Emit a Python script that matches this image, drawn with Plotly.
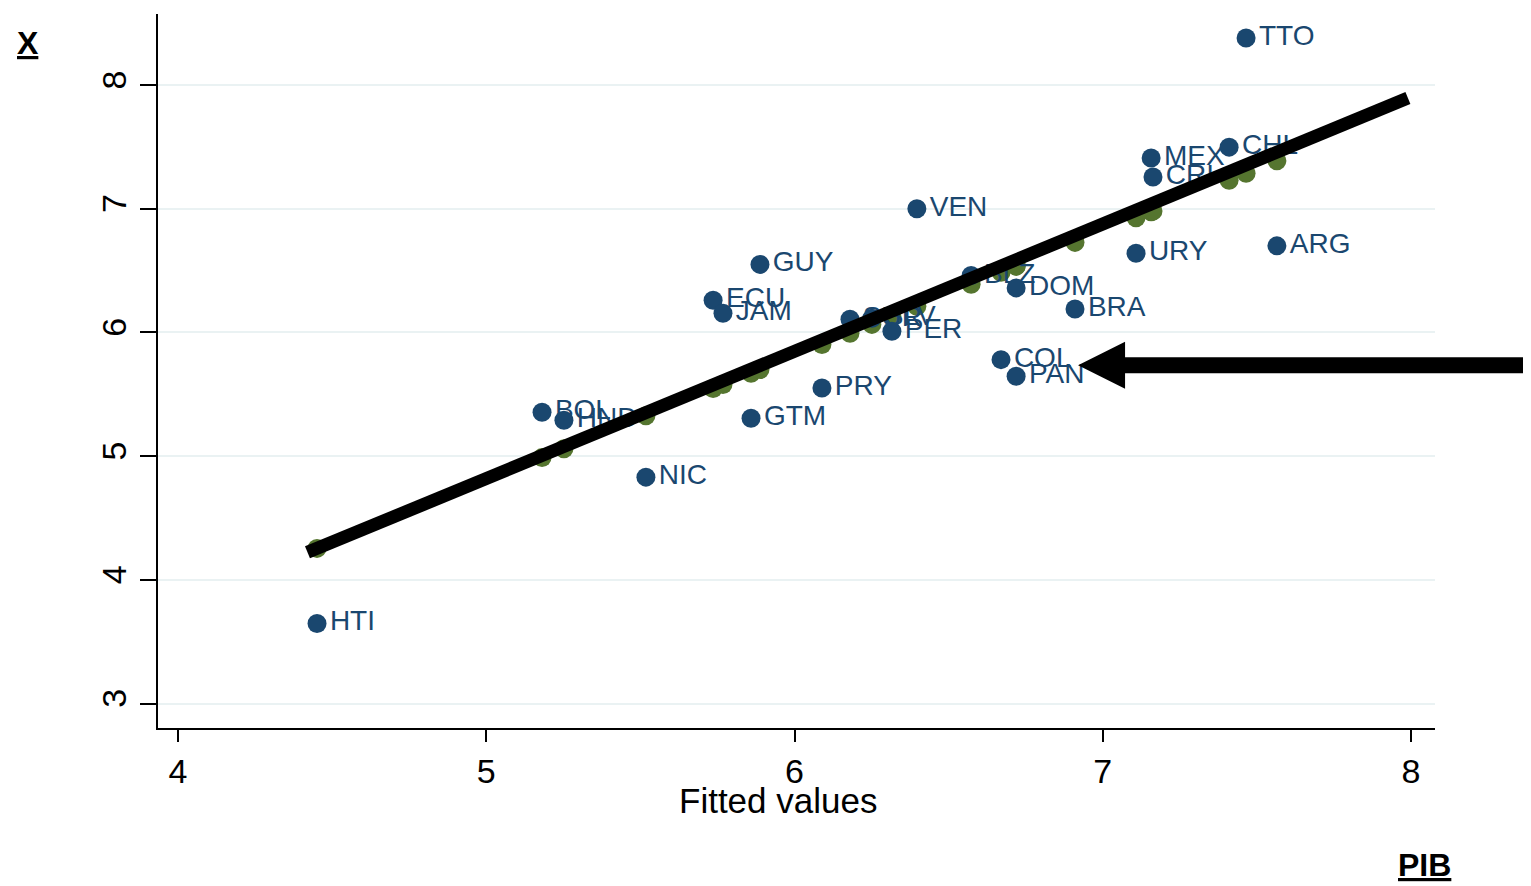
import plotly.graph_objects as go

# ---- data ----
countries = ["HTI", "BOL", "HND", "NIC", "ECU", "JAM", "GTM", "GUY", "PRY", "SUR",
             "SLV", "PER", "VEN", "BLZ", "COL", "DOM", "PAN", "BRA", "URY", "MEX",
             "CRI", "CHL", "TTO", "ARG"]
pib = [4.451, 5.181, 5.252, 5.518, 5.736, 5.768, 5.859, 5.888, 6.089, 6.180,
       6.251, 6.316, 6.397, 6.573, 6.670, 6.719, 6.719, 6.910, 7.108, 7.157,
       7.163, 7.410, 7.465, 7.565]
x_val = [3.647, 5.354, 5.290, 4.830, 6.260, 6.155, 5.306, 6.550, 5.550, 6.107,
         6.115, 6.010, 7.000, 6.460, 5.780, 6.360, 5.645, 6.190, 6.640, 7.410,
         7.256, 7.498, 8.380, 6.700]
fitted = [4.254, 4.988, 5.060, 5.327, 5.547, 5.579, 5.670, 5.700, 5.902, 5.993,
          6.065, 6.130, 6.212, 6.389, 6.486, 6.536, 6.536, 6.728, 6.927, 6.976,
          6.982, 7.231, 7.286, 7.387]
# hand-drawn straight line (start / end) and arrow (tip / tail)
line_x = [4.420, 7.990]
line_y = [4.222, 7.895]
arrow_tip = (6.920, 5.735)
arrow_tail_x = 8.42

x_ticks = [4, 5, 6, 7, 8]
y_ticks = [3, 4, 5, 6, 7, 8]
X_RANGE = [3.9351, 8.0779]
Y_RANGE = [2.802, 8.5744]

NAVY = "#1a476f"
GREEN = "#55752f"
FONT = "Liberation Sans, Arial, sans-serif"

fig = go.Figure()
fig.add_trace(go.Scatter(x=pib, y=fitted, mode="markers",
                         marker=dict(size=19, color=GREEN), showlegend=False,
                         hoverinfo="skip"))
fig.add_trace(go.Scatter(x=pib, y=x_val, mode="markers+text", text=countries,
                         textposition="middle right",
                         textfont=dict(family=FONT, size=28, color=NAVY),
                         marker=dict(size=19, color=NAVY), showlegend=False))
fig.add_trace(go.Scatter(x=line_x, y=line_y, mode="lines",
                         line=dict(color="black", width=13), showlegend=False,
                         hoverinfo="skip"))

OFF = 8  # page body margin
W, H = 1531 - OFF, 886 - OFF
L, R, T = 158 - OFF, 96, 14 - OFF
B = H - (728 - OFF)
pw, ph = W - L - R, H - T - B


def px_x(v):
    return (v - X_RANGE[0]) / (X_RANGE[1] - X_RANGE[0])


def px_y(v):
    return (v - Y_RANGE[0]) / (Y_RANGE[1] - Y_RANGE[0])


def page_x(p):
    return (p - OFF - L) / pw


def page_y(p):
    return (H - B - (p - OFF)) / ph


# arrow as paper shapes (not clipped to the plot area)
tipx, tipy = px_x(arrow_tip[0]), px_y(arrow_tip[1])
head_len = 47 / pw
head_half = 23.5 / ph
shaft_half = 8 / ph
tailx = px_x(arrow_tail_x)
shapes = [
    dict(type="rect", xref="paper", yref="paper", x0=tipx + head_len - 0.002, x1=tailx,
         y0=tipy - shaft_half, y1=tipy + shaft_half, fillcolor="black",
         line=dict(width=0)),
    dict(type="path", xref="paper", yref="paper",
         path=f"M {tipx} {tipy} L {tipx + head_len} {tipy + head_half} "
              f"L {tipx + head_len} {tipy - head_half} Z",
         fillcolor="black", line=dict(width=0)),
]

annotations = [
    dict(text="<b><u>X</u></b>", xref="paper", yref="paper",
         x=page_x(28), y=page_y(43), showarrow=False,
         font=dict(family=FONT, size=32, color="black"),
         xanchor="center", yanchor="middle"),
    dict(text="<b><u>PIB</u></b>", xref="paper", yref="paper",
         x=page_x(1424), y=page_y(865), showarrow=False,
         font=dict(family=FONT, size=32, color="black"),
         xanchor="center", yanchor="middle"),
    dict(text="Fitted values", xref="paper", yref="paper",
         x=page_x(778), y=page_y(800), showarrow=False,
         font=dict(family=FONT, size=35, color="black"),
         xanchor="center", yanchor="middle"),
]

fig.update_layout(
    width=W, height=H,
    margin=dict(l=L, r=R, t=T, b=B, pad=0),
    paper_bgcolor="white", plot_bgcolor="white",
    font=dict(family=FONT, color="black"),
    shapes=shapes, annotations=annotations,
    xaxis=dict(range=X_RANGE, tickvals=x_ticks, ticktext=[str(v) for v in x_ticks],
               showgrid=False, zeroline=False, showline=True, linecolor="black",
               linewidth=2, ticks="outside", ticklen=12, tickwidth=2, tickcolor="black",
               tickfont=dict(family=FONT, size=34, color="black")),
    yaxis=dict(range=Y_RANGE, tickvals=y_ticks, ticktext=[str(v) for v in y_ticks],
               showgrid=True, gridcolor="#eaf2f3", gridwidth=2, zeroline=False,
               showline=True, linecolor="black", linewidth=2, ticks="outside",
               ticklen=16, tickwidth=2, tickcolor="black", tickangle=-90,
               tickfont=dict(family=FONT, size=34, color="black")),
)

fig.write_html("out.html")
